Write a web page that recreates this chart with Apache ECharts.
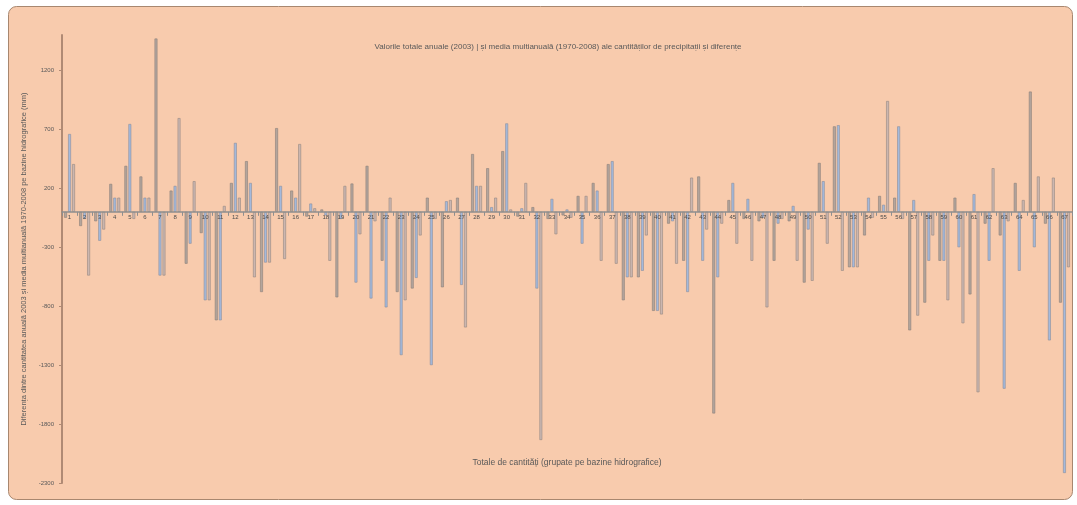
<!DOCTYPE html>
<html>
<head>
<meta charset="utf-8">
<script src="https://cdn.jsdelivr.net/npm/echarts@6/dist/echarts.min.js"></script>
<style>
html,body{margin:0;padding:0;background:#ffffff;}
#chart{width:1077px;height:505px;}
</style>
</head>
<body>
<div id="chart"></div>
<script>
// Station / category labels along the zero line
const categories = [];
for (let i = 1; i <= 67; i++) categories.push(String(i));

// Three series per station (values in mm)
const seriesA = [-50,-120,-80,237,390,300,1470,180,-440,-180,-920,245,430,-680,710,180,-40,20,-725,240,390,-415,-680,-650,120,-640,120,490,370,515,-40,40,-60,-30,135,245,405,-750,-555,-840,-100,-415,300,-1710,100,-60,-80,-415,-80,-600,415,725,-470,-200,135,120,-1005,-770,-415,120,-700,-100,-200,245,1020,-100,-770];
const seriesB = [660,-60,-245,120,745,120,-540,220,-270,-750,-920,585,245,-430,220,120,70,-30,-60,-600,-735,-810,-1215,-560,-1300,90,-620,220,40,750,30,-650,110,20,-270,180,430,-555,-500,-840,-80,-680,-415,-555,245,110,-50,-100,50,-150,260,735,-470,120,60,725,100,-415,-415,-300,150,-415,-1500,-500,-300,-1090,-2215];
const seriesC = [405,-540,-150,120,-60,120,-540,795,260,-750,50,120,-555,-430,-400,575,30,-415,220,-190,-80,120,-750,-200,-60,100,-980,220,120,20,245,-1935,-190,-50,135,-415,-440,-555,-200,-870,-440,290,-150,-100,-270,-415,-810,-60,-415,-585,-270,-500,-470,-50,940,-60,-880,-200,-750,-945,-1530,370,-80,100,300,290,-470];

// Y axis tick labels (Excel-style, counted from the minimum)
const yTicks = [-2300,-1800,-1300,-800,-300,200,700,1200];
const yMin = -2300, yMax = 1500;

const titleText = 'Valorile totale anuale (2003) | și media multianuală (1970-2008) ale cantităților de precipitații și diferențe';
const xName = 'Totale de cantități (grupate pe bazine hidrografice)';
const yName = 'Diferența dintre cantitatea anuală 2003 și media multianuală 1970-2008 pe bazine hidrografice (mm)';

const W = 1077, H = 505;
const gridTop = 35, gridBottom = 22;
const plotH = H - gridTop - gridBottom;
// distance from the bottom edge of the plot to the value 0, used to lift the category axis onto zero
const zeroFromBottom = plotH * (0 - yMin) / (yMax - yMin);

const chart = echarts.init(document.getElementById('chart'), null, {renderer:'canvas'});
const barBase = {type:'bar', barGap:'40%', barCategoryGap:'28%'};
chart.setOption({
  animation:false,
  backgroundColor:'#ffffff',
  textStyle:{fontFamily:'Liberation Sans, Arial, sans-serif'},
  graphic:[{
    type:'rect', z:-10, silent:true,
    shape:{x:8.5, y:6.5, width:1064, height:493, r:8},
    style:{fill:'#F8CBAD', stroke:'#a8876f', lineWidth:1}
  }],
  title:{
    text:titleText, left:553, top:38, textAlign:'center',
    textStyle:{fontSize:8, fontWeight:'normal', color:'#595959'}
  },
  grid:{left:62, right:5, top:gridTop, bottom:gridBottom, containLabel:false, outerBoundsMode:'none'},
  xAxis:{
    type:'category', data:categories, position:'bottom', z:10,
    offset:-zeroFromBottom,
    name:xName, nameLocation:'middle', nameGap:246,
    nameTextStyle:{fontSize:8.5, color:'#595959'},
    axisLine:{onZero:false, lineStyle:{color:'#8f8f8f', width:1.5}},
    axisTick:{show:true, interval:0, length:4, lineStyle:{color:'#8f8f8f'}},
    axisLabel:{interval:0, fontSize:6, color:'#4d4d4d', margin:3},
    splitLine:{show:false}
  },
  yAxis:{
    type:'value', min:yMin, max:yMax,
    name:yName, nameLocation:'middle', nameRotate:90, nameGap:30,
    nameTextStyle:{fontSize:7.5, color:'#595959'},
    axisLine:{show:true, lineStyle:{color:'#b08a74', width:2}},
    axisTick:{show:true, length:3, customValues:yTicks, lineStyle:{color:'#b08a74'}},
    axisLabel:{fontSize:6, color:'#595959', margin:8, customValues:yTicks, formatter:(v)=>String(v)},
    splitLine:{show:false}
  },
  series:[
    Object.assign({}, barBase, {name:'A', data:seriesA, itemStyle:{color:'#b3a59d', borderColor:'#8c8079', borderWidth:0.6}}),
    Object.assign({}, barBase, {name:'B', data:seriesB, itemStyle:{color:'#a3b9dc', borderColor:'#8c8f9c', borderWidth:0.6}}),
    Object.assign({}, barBase, {name:'C', data:seriesC, itemStyle:{color:'#cbb6b0', borderColor:'#968882', borderWidth:0.6}})
  ]
});
</script>
</body>
</html>
